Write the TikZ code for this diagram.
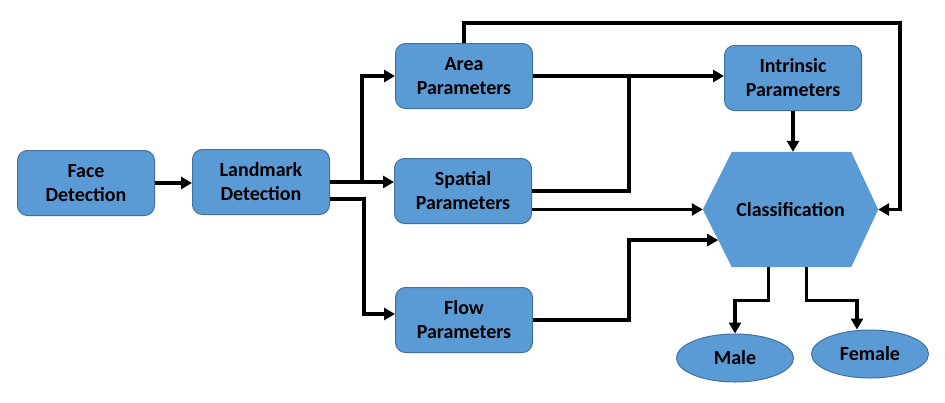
\documentclass[tikz,border=0pt]{standalone}
\usepackage{fontspec}
\setmainfont{Carlito}
\usepackage{tikz}
\usetikzlibrary{shapes.geometric, arrows.meta, calc}
\definecolor{boxblue}{HTML}{5B9BD5}
\definecolor{edgeblue}{HTML}{41719C}

\begin{document}
\begin{tikzpicture}[x=1pt, y=-1pt,
  stage/.style={rectangle, rounded corners=10pt, fill=boxblue, draw=edgeblue, line width=1pt,
    minimum width=137pt, minimum height=65pt, align=center, inner sep=0pt,
    font=\fontsize{20}{24}\selectfont\bfseries},
  result/.style={ellipse, fill=boxblue, draw=edgeblue, line width=1pt,
    minimum width=117pt, minimum height=48pt, inner sep=0pt,
    font=\fontsize{20}{24}\selectfont\bfseries},
  arr/.style={line width=3.2pt, -{Triangle[length=11pt,width=12pt]}},
  wire/.style={line width=3.2pt}]
  \useasboundingbox (0,0) rectangle (945,402);

  % Pipeline boxes
  \node[stage] (face) at (86,183) {Face\\Detection};
  \node[stage] (landmark) at (261,182) {Landmark\\Detection};
  \node[stage] (area) at (464,76) {Area\\Parameters};
  \node[stage] (spatial) at (463,191) {Spatial\\Parameters};
  \node[stage] (flow) at (464,320) {Flow\\Parameters};
  \node[stage] (intr) at (793,78) {Intrinsic\\Parameters};

  % Classification hexagon
  \node[minimum width=175pt, minimum height=115pt, inner sep=0pt] (cls) at (790.5,209.5) {};
  \coordinate (htl) at ($(cls.north west)+(29,0)$);
  \coordinate (htr) at ($(cls.north east)+(-27,0)$);
  \coordinate (hbl) at ($(cls.south west)+(29,0)$);
  \coordinate (hbr) at ($(cls.south east)+(-27,0)$);
  \fill[boxblue] (cls.west) -- (htl) -- (htr) -- (cls.east) -- (hbr) -- (hbl) -- cycle;
  \node[font=\fontsize{20}{24}\selectfont\bfseries] at (cls) {Classification};

  % Outputs
  \node[result] (male) at (735,358) {Male};
  \node[result] (female) at (870,354) {Female};

  % Connectors
  \draw[arr] (face.east) -- (face.east -| landmark.west);
  \draw[arr] (landmark.east) -- (landmark.east -| spatial.west);
  \coordinate (split) at (362,182);
  \draw[arr] (split) |- (area.west);
  \draw[arr] ($(landmark.east)+(0,17)$) -- ++(34,0) |- ($(flow.west)+(0,-6)$);

  \draw[arr] (area.north) |- (900,23) |- (cls.east);
  \draw[arr] (area.east) -- (area.east -| intr.west);
  \coordinate (join) at (629,76);
  \draw[wire] (spatial.east) -| (join);
  \draw[arr] (spatial.east |- cls.west) -- (cls.west);
  \coordinate (fin) at ($(cls.west)!0.53!(hbl)$);
  \draw[arr] (flow.east) -- ++(96,0) |- (fin);

  \draw[arr] (intr.south) -- (intr.south |- cls.north);
  \draw[arr] ($(cls.south)+(-22,0)$) -- ++(0,33) -| (male.north);
  \draw[arr] ($(cls.south)+(16,0)$) -- ++(0,33) -| ($(female.north)+(-13,0)$);
\end{tikzpicture}
\end{document}
